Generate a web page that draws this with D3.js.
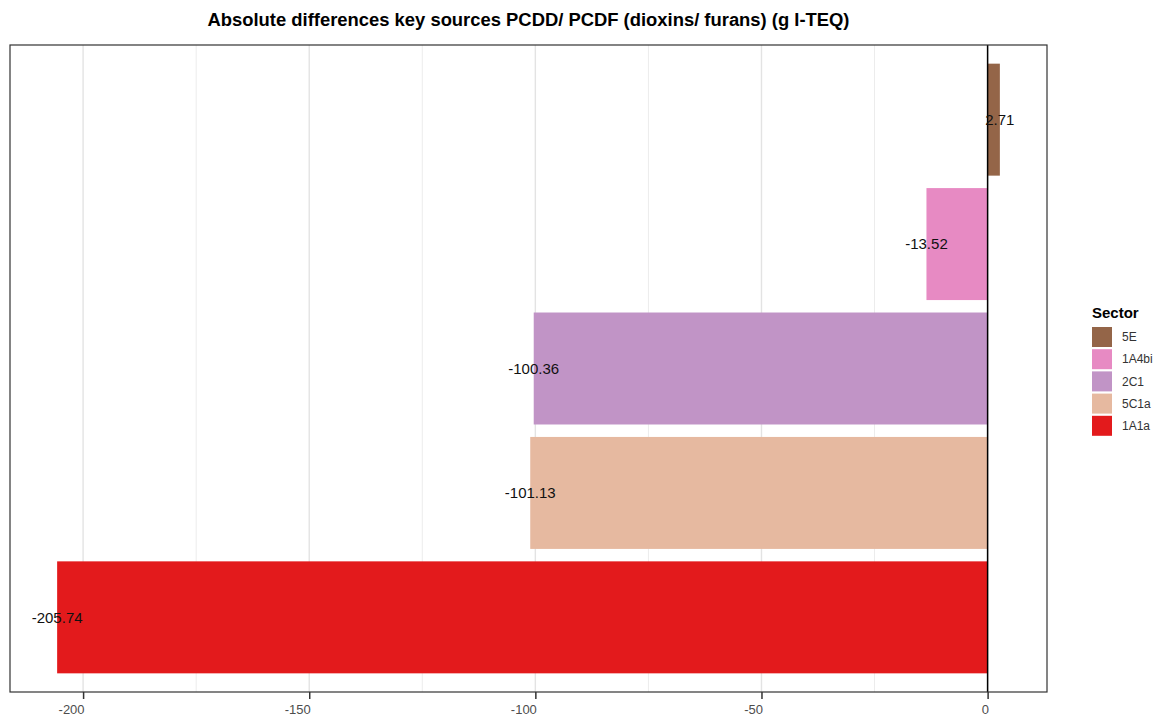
<!DOCTYPE html>
<html>
<head>
<meta charset="utf-8">
<script src="https://cdn.jsdelivr.net/npm/d3@7"></script>
<style>
  html, body { margin: 0; padding: 0; background: #fff; }
  svg { display: block; font-family: Arial, "Liberation Sans", sans-serif; }
</style>
</head>
<body>
<svg id="chart" width="1158" height="720"></svg>
<script>
const sectors = ["5E", "1A4bi", "2C1", "5C1a", "1A1a"];
const values = [2.71, -13.52, -100.36, -101.13, -205.74];
const colors = ["#946548", "#e78ac3", "#c194c6", "#e6b9a0", "#e31a1c"];
const majorTicks = [-200, -150, -100, -50, 0];
const minorTicks = [-175, -125, -75, -25];
const title = "Absolute differences key sources PCDD/ PCDF (dioxins/ furans) (g I-TEQ)";
const legendTitle = "Sector";

const svg = d3.select("#chart");
const panel = { left: 10, right: 1047, top: 45, bottom: 692 };

const xmin = d3.min(values), xmax = d3.max(values);
const pad = (xmax - xmin) * 0.05;
const x = d3.scaleLinear().domain([xmin - pad, xmax + pad]).range([panel.left, panel.right]);

// discrete y: positions 1..n, expanded 0.6 each side
const n = sectors.length;
const yPos = d3.scaleLinear().domain([0.4, n + 0.6]).range([panel.top, panel.bottom]);
const barH = yPos(1.45) - yPos(1);

// grid
const g = svg.append("g");
g.selectAll("line.minor").data(minorTicks).enter().append("line")
  .attr("x1", d => x(d)).attr("x2", d => x(d))
  .attr("y1", panel.top).attr("y2", panel.bottom)
  .attr("stroke", "#ececec").attr("stroke-width", 1);
g.selectAll("line.major").data(majorTicks).enter().append("line")
  .attr("x1", d => x(d)).attr("x2", d => x(d))
  .attr("y1", panel.top).attr("y2", panel.bottom)
  .attr("stroke", "#e3e3e3").attr("stroke-width", 1.4);

// bars
svg.append("g").selectAll("rect").data(sectors).enter().append("rect")
  .attr("x", (d, i) => x(Math.min(0, values[i])))
  .attr("width", (d, i) => Math.abs(x(values[i]) - x(0)))
  .attr("y", (d, i) => yPos(i + 1) - barH)
  .attr("height", barH * 2)
  .attr("fill", (d, i) => colors[i]);

// zero line
svg.append("line")
  .attr("x1", x(0)).attr("x2", x(0))
  .attr("y1", panel.top).attr("y2", panel.bottom)
  .attr("stroke", "#000").attr("stroke-width", 1.5);

// labels
svg.append("g").selectAll("text").data(sectors).enter().append("text")
  .attr("x", (d, i) => x(values[i]))
  .attr("y", (d, i) => yPos(i + 1))
  .attr("dy", "0.35em")
  .attr("text-anchor", "middle")
  .attr("font-size", "15px")
  .attr("fill", "#111")
  .text((d, i) => values[i].toFixed(2));

// panel border
svg.append("rect")
  .attr("x", panel.left).attr("y", panel.top)
  .attr("width", panel.right - panel.left).attr("height", panel.bottom - panel.top)
  .attr("fill", "none").attr("stroke", "#333").attr("stroke-width", 1.2);

// x axis
const axis = d3.axisBottom(x).tickValues(majorTicks).tickSize(7).tickSizeOuter(0)
  .tickFormat(d3.format("d"));
const ax = svg.append("g").attr("transform", `translate(0,${panel.bottom})`).call(axis);
ax.select(".domain").remove();
ax.selectAll(".tick line").attr("stroke", "#333").attr("stroke-width", 1.5);
ax.selectAll(".tick text")
  .attr("fill", "#4d4d4d").attr("font-size", "13px")
  .attr("y", 13).attr("dy", "0.71em")
  .attr("text-anchor", "end").attr("x", 1)
  .text(d => d3.format("d")(d).replace("−", "-"));

// title
svg.append("text")
  .attr("x", (panel.left + panel.right) / 2).attr("y", 26)
  .attr("text-anchor", "middle")
  .attr("font-size", "17.5px").attr("font-weight", "bold")
  .attr("textLength", 642).attr("lengthAdjust", "spacingAndGlyphs")
  .attr("fill", "#000")
  .text(title);

// legend
const lg = svg.append("g").attr("transform", "translate(1092,0)");
lg.append("text").attr("x", 0).attr("y", 318)
  .attr("font-size", "15px").attr("font-weight", "bold").attr("fill", "#000")
  .text(legendTitle);
const items = lg.selectAll("g.item").data(sectors).enter().append("g")
  .attr("transform", (d, i) => `translate(0,${327 + i * 22.2})`);
items.append("rect").attr("width", 20).attr("height", 20)
  .attr("fill", (d, i) => colors[i]);
items.append("text").attr("x", 30).attr("y", 10).attr("dy", "0.35em")
  .attr("font-size", "12px").attr("fill", "#333")
  .text(d => d);
</script>
</body>
</html>
